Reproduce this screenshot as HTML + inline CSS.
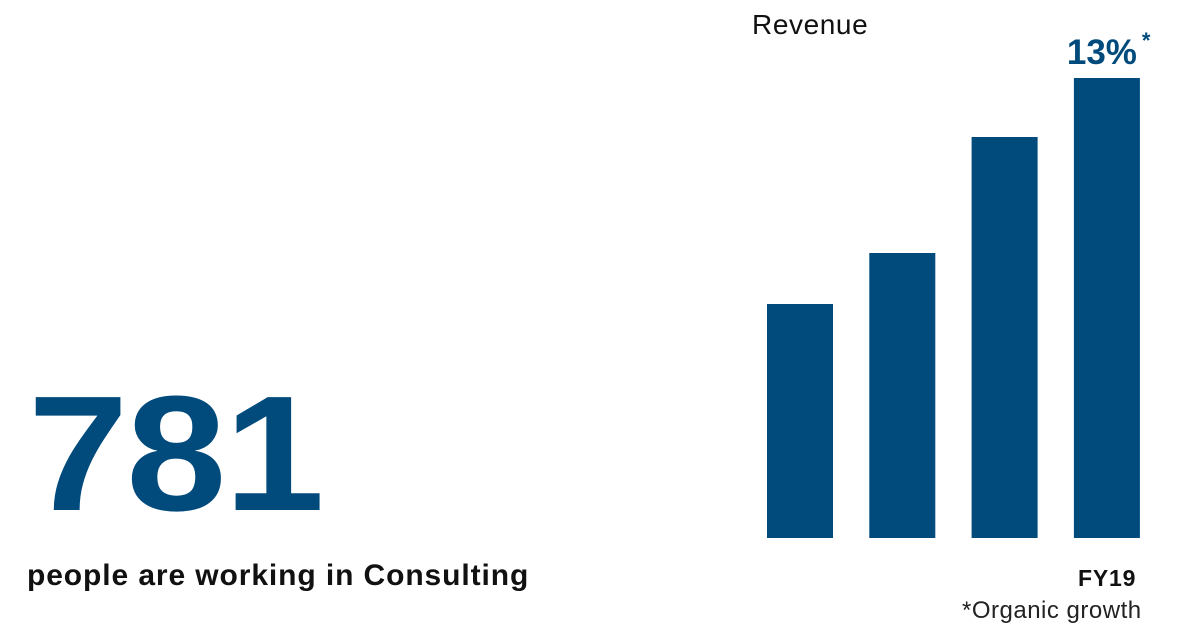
<!DOCTYPE html>
<html><head><meta charset="utf-8"><style>
body{margin:0;width:1200px;height:644px;background:#fff;position:relative;overflow:hidden;font-family:"Liberation Sans",sans-serif}
.t{position:absolute;margin:0;white-space:nowrap}
</style></head><body>
<div class="t" style="left:28px;top:372px;font-size:164px;font-weight:900;color:#004a7c;letter-spacing:-2px;line-height:164px;transform:scaleX(1.1);transform-origin:left top">781</div>
<div class="t" style="left:27px;top:559px;font-size:30px;font-weight:bold;color:#111;line-height:34px;letter-spacing:0.9px">people are working in Consulting</div>
<div class="t" style="left:752px;top:9px;font-size:28px;color:#111;line-height:32px;letter-spacing:0.6px">Revenue</div>
<svg id="chart" width="1200" height="644" style="position:absolute;left:0;top:0"></svg>
<div class="t" style="left:1078px;top:565px;font-size:23px;font-weight:bold;color:#111;letter-spacing:0.8px">FY19</div>
<div class="t" style="left:962px;top:597px;font-size:24px;color:#222;letter-spacing:0.5px">*Organic growth</div>
<script>
const categories=["FY16","FY17","FY18","FY19"];
const values=[234,285,401,460];
const svg=document.getElementById('chart');
const ns='http://www.w3.org/2000/svg';
const x0=767,step=102.3,bw=66,base=538,scale=1;
function xPos(i){return x0+i*step;}
function yPos(v){return base-v*scale;}
values.forEach((v,i)=>{
 const r=document.createElementNS(ns,'rect');
 r.setAttribute('x',xPos(i));r.setAttribute('y',yPos(v));
 r.setAttribute('width',bw);r.setAttribute('height',base-yPos(v));
 r.setAttribute('fill','#004a7c');
 
 
 svg.appendChild(r);
});
const last=values.length-1;
const t=document.createElementNS(ns,'text');
t.setAttribute('x',xPos(last)+bw/2-5);t.setAttribute('y',yPos(values[last])-14);
t.setAttribute('text-anchor','middle');t.setAttribute('font-size','35');t.setAttribute('font-weight','bold');
t.setAttribute('fill','#004a7c');t.setAttribute('font-family','Liberation Sans, sans-serif');
t.textContent='13%';


svg.appendChild(t);
const s=document.createElementNS(ns,'text');
s.setAttribute('x',xPos(last)+bw+2);s.setAttribute('y',yPos(values[last])-30);
s.setAttribute('font-size','22');s.setAttribute('font-weight','bold');s.setAttribute('fill','#004a7c');
s.setAttribute('font-family','Liberation Sans, sans-serif');
s.textContent='*';


svg.appendChild(s);
</script>
</body></html>
